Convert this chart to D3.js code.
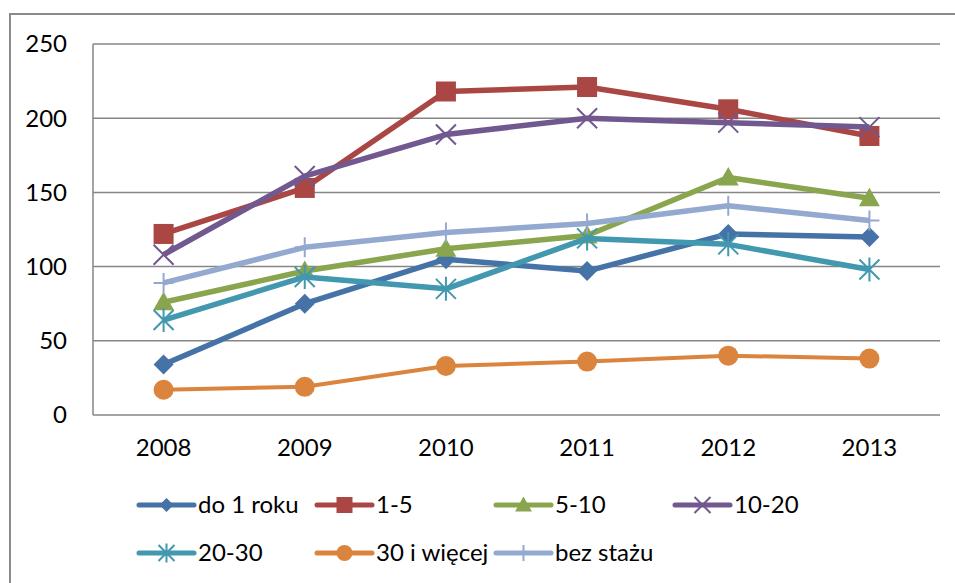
<!DOCTYPE html>
<html>
<head>
<meta charset="utf-8">
<script src="https://d3js.org/d3.v7.min.js"></script>
<style>
body { margin: 0; background: #fff; }
svg text { font-family: Lato, "Liberation Sans", sans-serif; fill: #000; }
</style>
</head>
<body>
<svg id="chart" width="955" height="583"></svg>
<script>
// data
var years = ["2008", "2009", "2010", "2011", "2012", "2013"];
var yTicks = [0, 50, 100, 150, 200, 250];
var seriesNames = ["do 1 roku", "1-5", "5-10", "10-20", "20-30", "30 i więcej", "bez stażu"];
var do1roku = [34, 75, 105, 97, 122, 120];
var s1_5 = [122, 153, 218, 221, 206, 188];
var s5_10 = [76, 97, 112, 121, 160, 146];
var s10_20 = [108, 161, 189, 200, 197, 194];
var s20_30 = [64, 93, 85, 119, 115, 98];
var s30plus = [17, 19, 33, 36, 40, 38];
var bezStazu = [89, 113, 123, 129, 141, 131];

var colors = ["#4572A7", "#AA4643", "#89A54E", "#71588F", "#4198AF", "#DB843D", "#93A9CF"];
var markers = ["diamond", "square", "triangle", "x", "star", "circle", "plus"];
var allValues = [do1roku, s1_5, s5_10, s10_20, s20_30, s30plus, bezStazu];

var series = seriesNames.map(function(n, i) {
  return {name: n, values: allValues[i], color: colors[i], marker: markers[i]};
});

var svg = d3.select("#chart");

// outer frame (runs off the right and bottom edges)
svg.append("path")
  .attr("d", "M10,600 L10,14 L960,14")
  .attr("fill", "none")
  .attr("stroke", "#8a8a8a")
  .attr("stroke-width", 2);

var x = d3.scalePoint().domain(years).range([93, 940]).padding(0.5);
var y = d3.scaleLinear().domain([0, 250]).range([415, 44]);

// gridlines
svg.append("g")
  .selectAll("line")
  .data(yTicks)
  .enter().append("line")
  .attr("x1", 93).attr("x2", 940)
  .attr("y1", function(d) { return y(d); })
  .attr("y2", function(d) { return y(d); })
  .attr("stroke", "#868686")
  .attr("stroke-width", 1.5);

// left axis line
svg.append("line")
  .attr("x1", 93).attr("x2", 93)
  .attr("y1", y(250)).attr("y2", y(0))
  .attr("stroke", "#868686")
  .attr("stroke-width", 1.5);

// y labels
svg.append("g")
  .selectAll("text")
  .data(yTicks)
  .enter().append("text")
  .attr("x", 67)
  .attr("y", function(d) { return y(d); })
  .attr("dy", "0.35em")
  .attr("text-anchor", "end")
  .style("font-size", "24px")
  .text(function(d) { return d; });

// x labels
svg.append("g")
  .selectAll("text")
  .data(years)
  .enter().append("text")
  .attr("x", function(d) { return x(d); })
  .attr("y", 448)
  .attr("dy", "0.35em")
  .attr("text-anchor", "middle")
  .style("font-size", "24px")
  .text(function(d) { return d; });

function markerPath(type, r) {
  if (type == "diamond") return "M0," + (-r) + "L" + r + ",0L0," + r + "L" + (-r) + ",0Z";
  if (type == "square") return "M" + (-r) + "," + (-r) + "H" + r + "V" + r + "H" + (-r) + "Z";
  if (type == "triangle") return "M0," + (-r * 1.05) + "L" + (r * 1.05) + "," + (r * 0.8) + "L" + (-r * 1.05) + "," + (r * 0.8) + "Z";
  if (type == "circle") return "M" + (-r) + ",0A" + r + "," + r + " 0 1,0 " + r + ",0A" + r + "," + r + " 0 1,0 " + (-r) + ",0Z";
  if (type == "x") return "M" + (-r) + "," + (-r) + "L" + r + "," + r + "M" + r + "," + (-r) + "L" + (-r) + "," + r;
  if (type == "star") return "M" + (-r) + "," + (-r) + "L" + r + "," + r + "M" + r + "," + (-r) + "L" + (-r) + "," + r + "M0," + (-r * 1.2) + "L0," + (r * 1.2);
  if (type == "plus") return "M" + (-r) + ",0L" + r + ",0M0," + (-r) + "L0," + r;
}
function isFilled(type) { return ["diamond", "square", "triangle", "circle"].indexOf(type) >= 0; }

var line = d3.line()
  .x(function(d, i) { return x(years[i]); })
  .y(function(d) { return y(d); });

var groups = svg.append("g")
  .selectAll("g")
  .data(series)
  .enter().append("g");

groups.append("path")
  .attr("d", function(d) { return line(d.values); })
  .attr("fill", "none")
  .attr("stroke", function(d) { return d.color; })
  .attr("stroke-width", function(d) { return d.marker == "circle" ? 4 : 5.5; })
  .attr("stroke-linejoin", "round");

groups.each(function(s) {
  d3.select(this).selectAll(".mk")
    .data(s.values)
    .enter().append("path")
    .attr("class", "mk")
    .attr("transform", function(d, i) { return "translate(" + x(years[i]) + "," + y(d) + ")"; })
    .attr("d", markerPath(s.marker, 10))
    .attr("fill", isFilled(s.marker) ? s.color : "none")
    .attr("stroke", s.color)
    .attr("stroke-width", isFilled(s.marker) ? 0 : 2);
});

// legend
var legendX = [139, 317, 496, 675];
var legendY = [505, 553];
var legend = svg.append("g")
  .selectAll("g")
  .data(series)
  .enter().append("g")
  .attr("transform", function(d, i) { return "translate(" + legendX[i % 4] + "," + legendY[Math.floor(i / 4)] + ")"; });

legend.append("line")
  .attr("x1", 0).attr("x2", 55)
  .attr("stroke", function(d) { return d.color; })
  .attr("stroke-width", 5)
  .attr("stroke-linecap", "round");

legend.append("path")
  .attr("transform", "translate(27.5,0)")
  .attr("d", function(d) { return markerPath(d.marker, d.marker == "diamond" ? 7 : 8); })
  .attr("fill", function(d) { return isFilled(d.marker) ? d.color : "none"; })
  .attr("stroke", function(d) { return d.color; })
  .attr("stroke-width", function(d) { return isFilled(d.marker) ? 0 : 2; });

legend.append("text")
  .attr("x", 59)
  .attr("dy", "0.35em")
  .style("font-size", "24px")
  .text(function(d) { return d.name; });
</script>
</body>
</html>
